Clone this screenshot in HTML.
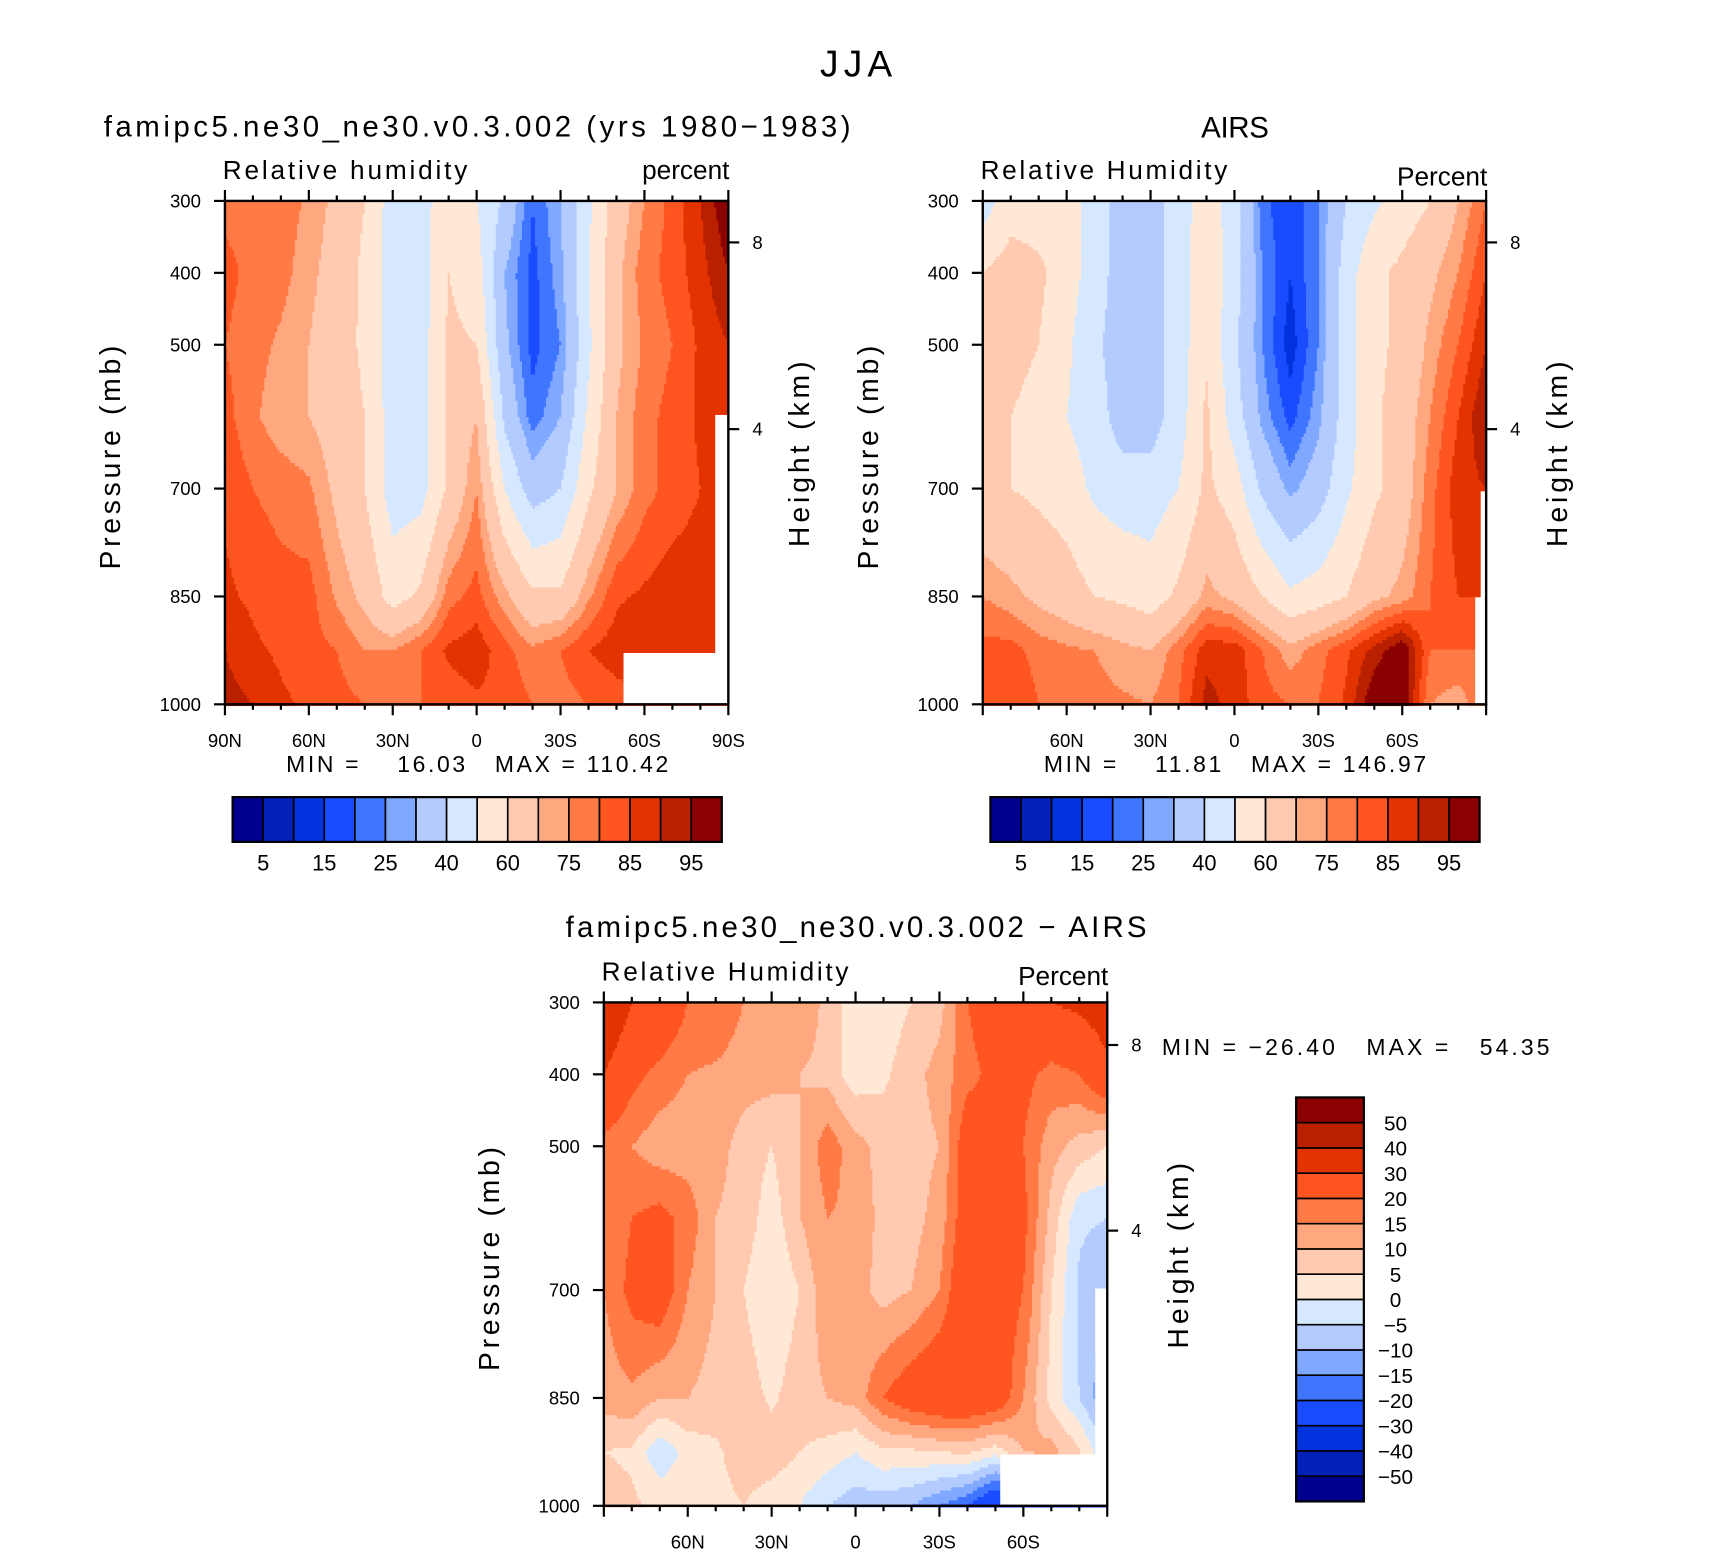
<!DOCTYPE html>
<html><head><meta charset="utf-8"><style>
html,body{margin:0;padding:0;background:#fff;}
svg{display:block;}
text{font-family:"Liberation Sans",sans-serif;fill:#000;white-space:pre;}
</style></head><body>
<svg id="fig" width="1710" height="1552" viewBox="0 0 1566 1421.3" xmlns="http://www.w3.org/2000/svg">
<rect width="1566" height="1422" fill="#fff"/>
<text x="784" y="70" font-size="34" text-anchor="middle" textLength="66" lengthAdjust="spacing">JJA</text>
<g id="layers"></g>
</svg>
<script>
// ---- data ----
const latLabels = ["90N","80N","70N","60N","50N","40N","30N","20N","10N","0","10S","20S","30S","40S","50S","60S","70S","80S","90S"];
const pressures = [300,400,500,600,700,850,925,1000];
const absLevels = [5,10,15,20,25,30,40,50,60,70,75,80,85,90,95];
const diffLevels = [-50,-40,-30,-20,-15,-10,-5,0,5,10,15,20,30,40,50];
const palette = ["#000090","#0020b8","#0033dd","#1a4cff","#4076ff","#80a8ff","#b3cbff","#d6e8ff","#ffe9d6","#ffcab0","#ffa880","#ff7a45","#ff5520","#e33300","#b82000","#8b0000"];
const modelRH = [
 [78,78,78,74,68,60,45,45,58,50,38,20,30,48,65,75,82,90,100],
 [82,78,77,72,66,58,45,45,60,55,30,18,28,50,68,78,82,88,95],
 [80,77,74,70,65,58,45,45,62,60,32,18,25,48,68,76,80,86,90],
 [82,76,72,70,66,60,45,45,62,70,38,22,30,52,70,78,82,86,88],
 [84,80,78,76,68,60,45,46,62,75,50,35,40,58,70,78,82,85,86],
 [86,84,82,82,74,68,56,62,78,82,72,62,62,74,84,86,88,88,86],
 [90,86,84,82,80,75,75,80,86,88,82,76,80,85,88,90,88,86,86],
 [92,90,86,84,82,80,78,80,82,84,84,80,78,80,82,84,84,84,84]];
const airsRH = [
 [45,55,55,55,45,35,35,45,55,45,22,15,25,40,48,55,60,70,80],
 [60,65,62,55,45,35,35,45,58,45,25,15,25,45,58,62,68,75,85],
 [65,65,60,52,42,35,35,45,58,42,25,12,25,45,58,62,72,80,90],
 [62,60,55,50,45,35,35,45,62,45,28,18,28,45,58,65,75,85,95],
 [62,60,58,55,48,45,45,50,62,55,38,28,35,48,58,65,78,88,90],
 [75,72,68,65,60,58,55,62,72,68,60,52,55,60,68,72,80,85,85],
 [82,82,78,76,75,72,70,78,88,88,80,72,78,84,92,100,80,80,80],
 [84,85,80,78,77,76,75,80,92,88,82,80,80,86,100,100,75,72,80]];
const diffRH = [
 [40,30,28,20,20,15,15,15,8,2,2,5,8,20,25,30,30,32,35],
 [30,22,18,15,14,12,12,10,8,2,4,8,12,18,22,22,18,20,28],
 [18,15,12,12,12,8,5,10,18,12,8,8,10,25,25,20,12,8,5],
 [15,20,22,18,10,8,2,10,15,14,8,8,12,25,28,22,8,-4,-5],
 [15,22,25,15,10,5,0,5,14,12,8,10,15,28,25,20,5,-6,-10],
 [12,14,10,10,8,8,4,8,10,12,20,25,28,28,26,15,3,-5,-15],
 [5,4,-4,2,4,8,8,5,3,0,4,4,5,6,2,10,12,6,-5],
 [8,6,4,3,3,5,2,0,-5,-8,-8,-10,-15,-20,-30,-30,-30,-30,-30]];
const absLabels = ["5","15","25","40","60","75","85","95"];
const diffLabels = ["50","40","30","20","15","10","5","0","\u22125","\u221210","\u221215","\u221220","\u221230","\u221240","\u221250"];
const pTicks = [300,400,500,700,850,1000];
const latTickLabels = ["90N","60N","30N","0","30S","60S","90S"];
const latTickDeg = [90,60,30,0,-30,-60,-90];

const NS="http://www.w3.org/2000/svg";
const root=document.getElementById('layers');
function el(tag,attrs,parent){const e=document.createElementNS(NS,tag);for(const k in attrs)e.setAttribute(k,attrs[k]);(parent||root).appendChild(e);return e;}
function txt(s,attrs,parent){const e=el('text',attrs,parent);e.textContent=s;return e;}

function panel(P){
  const g=el('g',{});
  
  
  const W=461,H=461,x0=P.x,y0=P.y;
  const yOf=p=>y0+(p-300)/700*H;
  const xOfDeg=d=>x0+(90-d)/180*W;
  const nC=P.data[0].length;
  const step=3, sx=2;
  for(let py=y0;py<y0+H;py+=step){
    const pc=300+(py+step/2-y0)/H*700;
    let r=0;while(r<pressures.length-2&&pressures[r+1]<pc)r++;
    const t=Math.min(1,Math.max(0,(pc-pressures[r])/(pressures[r+1]-pressures[r])));
    let runStart=x0,runCol=-1;
    const flush=(xe)=>{if(runCol<0)return;const c=el('rect',{x:runStart,y:py,width:xe-runStart+0.6,height:step+0.6,fill:palette[runCol]},g);
      
      };
    for(let px=x0;px<x0+W;px+=sx){
      const f=(px+sx/2-x0)/W*(nC-1);
      const i=Math.min(nC-2,Math.floor(f)),u=f-i;
      const a=P.data[r][i]*(1-u)+P.data[r][i+1]*u;
      const b=P.data[r+1][i]*(1-u)+P.data[r+1][i+1]*u;
      const v=a*(1-t)+b*t;
      let ci=0;while(ci<P.levels.length&&v>=P.levels[ci])ci++;
      if(ci!==runCol){flush(px);runStart=px;runCol=ci;}
    }
    flush(x0+W-0.6);
  }
  P.masks.forEach(m=>{const r=el('rect',{x:m[0],y:m[1],width:m[2],height:m[3],fill:'#fff'},g);
    
    });
  const fr=el('rect',{x:x0,y:y0,width:W,height:H,fill:'none',stroke:'#000','stroke-width':2.2},g);
  
  
  pTicks.forEach(p=>{const y=yOf(p);el('line',{x1:x0-10,x2:x0,y1:y,y2:y,stroke:'#000','stroke-width':2},g);
    const t=txt(String(p),{x:x0-22,y:y+6,'font-size':17,'text-anchor':'end'},g);
    
    });
  for(let d=90;d>=-90;d-=10){const x=xOfDeg(d);const maj=(d%30===0);
    el('line',{x1:x,x2:x,y1:y0,y2:y0-(maj?10:5),stroke:'#000','stroke-width':2},g);
    el('line',{x1:x,x2:x,y1:y0+H,y2:y0+H+(maj?10:5),stroke:'#000','stroke-width':2},g);}
  latTickDeg.forEach((d,k)=>{if(!P.showEnds&&(k===0||k===6))return;
    const t=txt(latTickLabels[k],{x:xOfDeg(d),y:y0+H+39,'font-size':17,'text-anchor':'middle'},g);
    
    });
  [[8,P.h8],[4,P.h4]].forEach(h=>{el('line',{x1:x0+W,x2:x0+W+10,y1:h[1],y2:h[1],stroke:'#000','stroke-width':2},g);
    const t=txt(String(h[0]),{x:x0+W+22,y:h[1]+6,'font-size':17},g);
    
    });
  let t=txt('Pressure (mb)',{x:0,y:0,'font-size':26,'text-anchor':'middle',textLength:205,lengthAdjust:'spacing',transform:`translate(${x0-96},${y0+235}) rotate(-90)`},g);
  
  
  t=txt('Height (km)',{x:0,y:0,'font-size':26,'text-anchor':'middle',textLength:170,lengthAdjust:'spacing',transform:`translate(${x0+W+74},${y0+232}) rotate(-90)`},g);
  
  
  t=txt(P.left,{x:x0-2,y:y0-20,'font-size':24,textLength:P.leftLen,lengthAdjust:'spacing'},g);
  
  
  t=txt(P.right,{x:x0+W+1,y:y0-P.rOff,'font-size':24,'text-anchor':'end'},g);
  
  
  t=txt(P.title,{x:P.tx,y:P.ty,'font-size':27,'text-anchor':'middle',textLength:P.tLen,lengthAdjust:'spacing'},g);
  
  
}

function hbar(x,y,name){
  const g=el('g',{});
  
  
  palette.forEach((c,k)=>{const r=el('rect',{x:x+k*28,y:y,width:28,height:41,fill:c,stroke:'#000','stroke-width':1.5},g);
    
    });
  el('rect',{x:x,y:y,width:448,height:41,fill:'none',stroke:'#000','stroke-width':2},g);
  absLabels.forEach((s,k)=>{const t=txt(s,{x:x+28*(2*k+1),y:y+67,'font-size':20,'text-anchor':'middle'},g);
    
    });
}

panel({name:'model-panel',x:206,y:184,data:modelRH,levels:absLevels,masks:[[571,598,96,48],[655,380,12,266]],
  showEnds:true,h8:222,h4:393,left:'Relative humidity',leftLen:224,right:'percent',rOff:20,title:'famipc5.ne30_ne30.v0.3.002 (yrs 1980\u22121983)',tLen:684,tx:437,ty:125});
panel({name:'airs-panel',x:900,y:184,data:airsRH,levels:absLevels,masks:[[1356,450,5,196],[1351,547,10,99]],
  showEnds:false,h8:222,h4:393,left:'Relative Humidity',leftLen:226,right:'Percent',rOff:14,title:'AIRS',tLen:62,tx:1131,ty:126});
panel({name:'difference-panel',x:553,y:918,data:diffRH,levels:diffLevels,masks:[[916,1332,98,48],[1003,1180,11,200]],
  showEnds:false,h8:957,h4:1127,left:'Relative Humidity',leftLen:226,right:'Percent',rOff:16,title:'famipc5.ne30_ne30.v0.3.002 \u2212 AIRS',tLen:532,tx:784,ty:858});

hbar(213,730,'model-colorbar');
hbar(907,730,'airs-colorbar');
let t;
t=txt('MIN =    16.03   MAX = 110.42',{x:262,y:707,'font-size':21,textLength:350,lengthAdjust:'spacing'});


t=txt('MIN =    11.81   MAX = 146.97',{x:956,y:707,'font-size':21,textLength:350,lengthAdjust:'spacing'});


t=txt('MIN = \u221226.40   MAX =   54.35',{x:1064,y:966,'font-size':21,textLength:355,lengthAdjust:'spacing'});



const vg=el('g',{});


const bh=370/16;
palette.forEach((c,k)=>{const r=el('rect',{x:1187,y:1005+(15-k)*bh,width:62,height:bh,fill:c,stroke:'#000','stroke-width':1.5},vg);
  
  });
el('rect',{x:1187,y:1005,width:62,height:370,fill:'none',stroke:'#000','stroke-width':2},vg);
diffLabels.forEach((s,k)=>{const t=txt(s,{x:1278,y:1005+(k+1)*bh+7,'font-size':19,'text-anchor':'middle'},vg);
  
  });
</script>
</body></html>
